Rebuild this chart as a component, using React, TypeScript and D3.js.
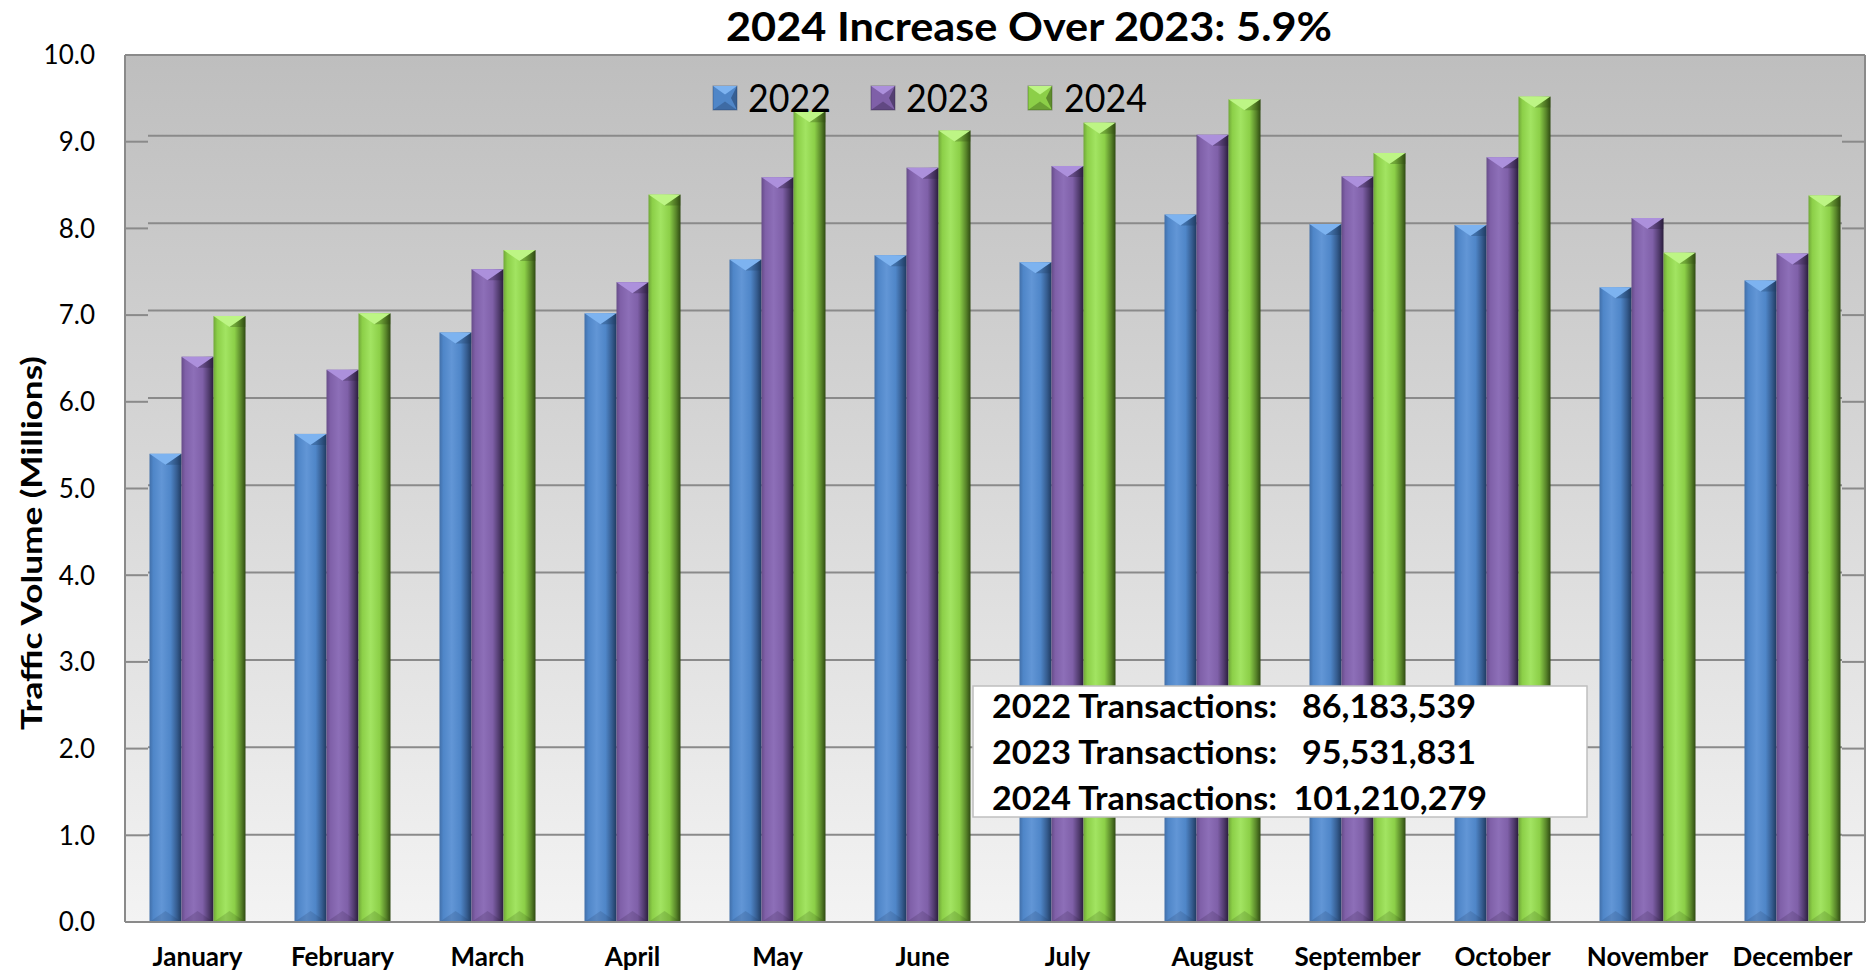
import React from "react";
import * as d3 from "d3";

const months = ["January","February","March","April","May","June","July","August","September","October","November","December"];
const seriesNames = ["2022","2023","2024"];
const v2022 = [5.40,5.63,6.80,7.02,7.64,7.69,7.61,8.16,8.05,8.04,7.32,7.40];
const v2023 = [6.52,6.37,7.53,7.38,8.59,8.70,8.72,9.08,8.60,8.82,8.12,7.71];
const v2024 = [6.99,7.02,7.75,8.39,9.35,9.13,9.22,9.49,8.87,9.52,7.72,8.38];
const yTicks = [0,1,2,3,4,5,6,7,8,9,10];
const title = "2024 Increase Over 2023: 5.9%";
const yTitle = "Traffic Volume (Millions)";
const boxLines = ["2022 Transactions:   86,183,539","2023 Transactions:   95,531,831","2024 Transactions:  101,210,279"];

const palette = [
  { base: "#4F86C8", light: "#6296D6", dark: "#1F3A60", bevel: "#7DB3F0" },
  { base: "#7F60A8", light: "#8D6FB8", dark: "#2A1D3C", bevel: "#AC90DC" },
  { base: "#8CCF48", light: "#A2E462", dark: "#2F4A12", bevel: "#BDF585" },
];

const W = 1870, H = 972;
const L = 125, R = 1865, T = 55, B = 922;
const FONT = "Lato, 'Open Sans', sans-serif";

export default function App() {
  const values = [v2022, v2023, v2024];
  const x0 = d3.scaleBand<string>().domain(months).range([L, R]).paddingInner(0).paddingOuter(0);
  const groupW = 96;
  const x1 = d3.scaleBand<string>().domain(seriesNames).range([0, groupW]).padding(0);
  const y = d3.scaleLinear().domain([0, 10]).range([B, T]);
  const yBack = d3.scaleLinear().domain([0, 10]).range([B, T - 6.5]);
  const wallL = 148, wallR = 1842;

  const bars: any[] = [];
  months.forEach((m, i) => {
    const gx = (x0(m) as number) + x0.bandwidth() / 2 - groupW / 2;
    seriesNames.forEach((s, j) => {
      const v = values[j][i];
      const bx = gx + (x1(s) as number);
      const bw = x1.bandwidth();
      const yt = y(v);
      const yb = y(0);
      const c = palette[j];
      const xc = bx + bw / 2;
      const h = 11;
      bars.push(
        <g key={m + s}>
          <rect x={bx} y={yt} width={bw} height={yb - yt} fill={`url(#g${j})`} />
          <polygon points={`${bx},${yt} ${bx + bw},${yt} ${xc},${yt + h}`} fill={c.bevel} />
          <polygon points={`${bx + bw},${yt} ${xc},${yt + h} ${bx + bw},${yt + h}`} fill={c.dark} opacity={0.3} />
          <polygon points={`${bx},${yb} ${bx + bw},${yb} ${xc},${yb - h}`} fill={c.dark} opacity={0.18} />
        </g>
      );
    });
  });

  return (
    <svg width={W} height={H} style={{ position: "absolute", left: 0, top: 0, background: "#fff" }}>
      <defs>
        <linearGradient id="bg" x1="0" y1="0" x2="0" y2="1">
          <stop offset="0%" stopColor="#BEBEBE" />
          <stop offset="100%" stopColor="#F3F3F3" />
        </linearGradient>
        {palette.map((c, j) => (
          <linearGradient key={j} id={`g${j}`} x1="0" y1="0" x2="1" y2="0">
            <stop offset="0%" stopColor={d3.interpolateRgb(c.base, c.dark)(0.3)} />
            <stop offset="12%" stopColor={c.base} />
            <stop offset="38%" stopColor={c.light} />
            <stop offset="66%" stopColor={c.base} />
            <stop offset="86%" stopColor={d3.interpolateRgb(c.base, c.dark)(0.55)} />
            <stop offset="100%" stopColor={c.dark} />
          </linearGradient>
        ))}
      </defs>

      <rect x={L} y={T} width={R - L} height={B - T} fill="url(#bg)" />
      {yTicks.filter(t => t > 0 && t < 10).map(t => (
        <line key={"gb" + t} x1={wallL} x2={wallR} y1={yBack(t)} y2={yBack(t)} stroke="#8A8A8A" strokeWidth={2} />
      ))}
      {yTicks.filter(t => t > 0).map(t => (
        <g key={"tk" + t}>
          <line x1={L} x2={wallL} y1={y(t)} y2={y(t)} stroke="#8A8A8A" strokeWidth={2} />
          <line x1={wallR} x2={R} y1={y(t)} y2={y(t)} stroke="#8A8A8A" strokeWidth={2} />
        </g>
      ))}
      <line x1={L} x2={R} y1={T} y2={T} stroke="#8A8A8A" strokeWidth={2} />
      <line x1={L} x2={L} y1={T} y2={B} stroke="#8A8A8A" strokeWidth={2} />
      <line x1={R} x2={R} y1={T} y2={B} stroke="#8A8A8A" strokeWidth={2} />

      {bars}
      <line x1={L} x2={R} y1={B} y2={B} stroke="#8A8A8A" strokeWidth={2} />

      {yTicks.map(t => (
        <text key={"yl" + t} x={95} y={y(t)} dy="0.36em" textAnchor="end" fontFamily={FONT} fontSize={26} fill="#000">
          {t.toFixed(1)}
        </text>
      ))}

      {months.map(m => (
        <text key={"xl" + m} transform={`translate(${(x0(m) as number) + x0.bandwidth() / 2},966)`} textAnchor="middle" fontFamily={FONT} fontWeight="bold" fontSize={26} fill="#000">
          {m}
        </text>
      ))}

      <text x={1029} y={41} textAnchor="middle" fontFamily={FONT} fontWeight="bold" fontSize={40} textLength={606} lengthAdjust="spacingAndGlyphs" fill="#000">
        {title}
      </text>

      <text transform={`translate(42,543) rotate(-90)`} textAnchor="middle" fontFamily={FONT} fontWeight="bold" fontSize={29} textLength={374} lengthAdjust="spacingAndGlyphs" fill="#000">
        {yTitle}
      </text>

      {seriesNames.map((s, j) => {
        const bx = [713, 871, 1028][j];
        const tx = [748, 906, 1064][j];
        const c = palette[j];
        const sz = 24, by = 86, ins = 6;
        return (
          <g key={"lg" + s}>
            <rect x={bx} y={by} width={sz} height={sz} fill={c.base} stroke={c.dark} strokeOpacity={0.4} />
            <polygon points={`${bx},${by} ${bx + sz},${by} ${bx + sz / 2},${by + ins * 1.4}`} fill={c.bevel} />
            <polygon points={`${bx + sz},${by} ${bx + sz},${by + sz} ${bx + sz - ins},${by + sz / 2}`} fill={c.dark} opacity={0.5} />
            <polygon points={`${bx},${by + sz} ${bx + sz},${by + sz} ${bx + sz / 2},${by + sz - ins * 1.4}`} fill={c.dark} opacity={0.35} />
            <text x={tx} y={112} fontFamily={FONT} fontSize={38} textLength={83} lengthAdjust="spacingAndGlyphs" fill="#000">{s}</text>
          </g>
        );
      })}

      <rect x={973} y={686} width={614} height={131} fill="#fff" stroke="#BFBFBF" strokeWidth={1.5} />
      {boxLines.map((ln, i) => (
        <text key={"bl" + i} x={992} y={718 + i * 46} fontFamily={FONT} fontWeight="bold" fontSize={32} style={{ whiteSpace: "pre" }} xmlSpace="preserve" textLength={i === 2 ? 495 : 484} lengthAdjust="spacingAndGlyphs" fill="#000">
          {ln}
        </text>
      ))}
    </svg>
  );
}
